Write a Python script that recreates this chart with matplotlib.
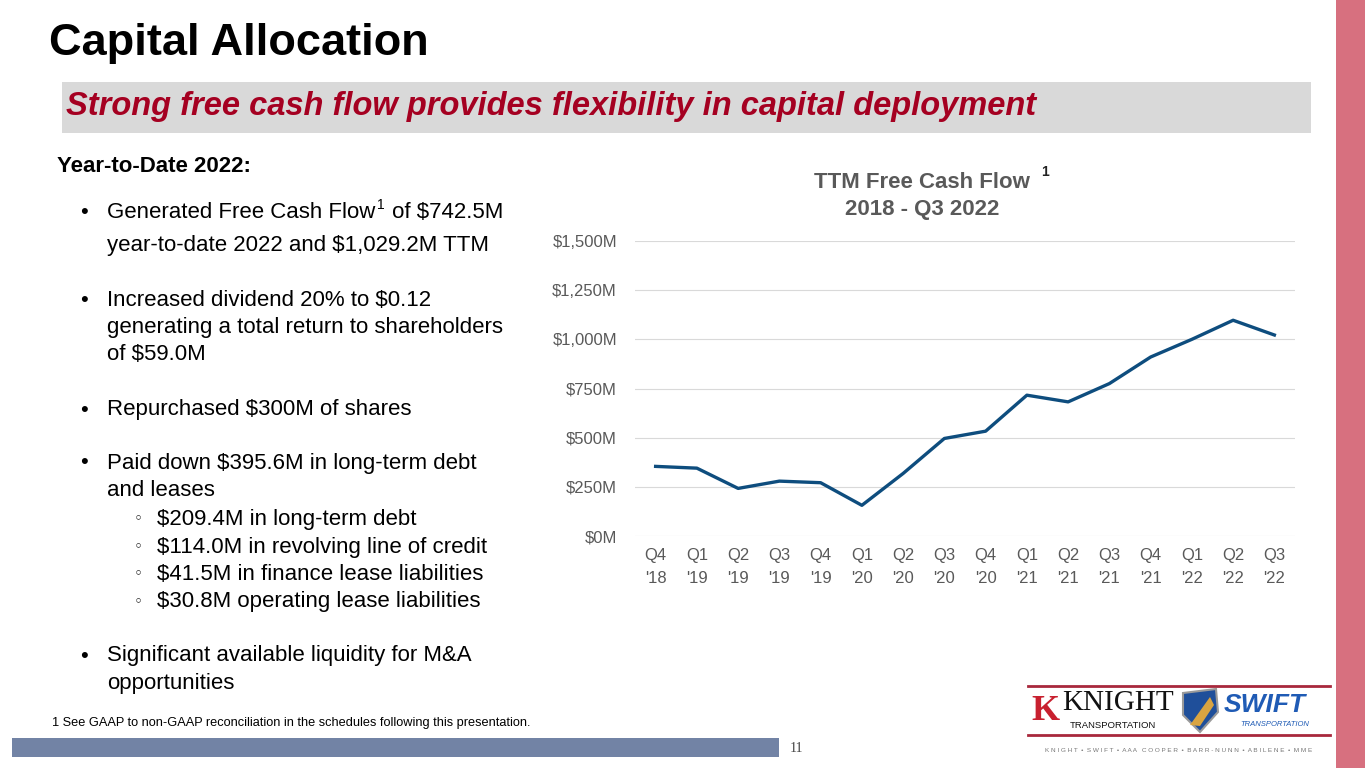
import matplotlib.pyplot as plt
from matplotlib.patches import Rectangle, Polygon

# TTM free cash flow, $M
quarters = ["Q4\n'18", "Q1\n'19", "Q2\n'19", "Q3\n'19", "Q4\n'19", "Q1\n'20", "Q2\n'20", "Q3\n'20",
            "Q4\n'20", "Q1\n'21", "Q2\n'21", "Q3\n'21", "Q4\n'21", "Q1\n'22", "Q2\n'22", "Q3\n'22"]
fcf = [354, 345, 242, 279, 271, 156, 318, 496, 533, 716, 682, 775, 910, 1000, 1097, 1022]
y_ticks = [0, 250, 500, 750, 1000, 1250, 1500]
y_tick_labels = ["$0M", "$250M", "$500M", "$750M", "$1,000M", "$1,250M", "$1,500M"]

# (y, bullet, text, level)
bullet_lines = [
    (245, None, "year-to-date 2022 and \\$1,029.2M TTM", 0),
    (300, "•", "Increased dividend 20% to \\$0.12", 0),
    (328, None, "generating a total return to shareholders", 0),
    (355, None, "of \\$59.0M", 0),
    (410, "•", "Repurchased \\$300M of shares", 0),
    (463, "•", "Paid down \\$395.6M in long-term debt", 0),
    (491, None, "and leases", 0),
    (519, "◦", "\\$209.4M in long-term debt", 1),
    (547, "◦", "\\$114.0M in revolving line of credit", 1),
    (574, "◦", "\\$41.5M in finance lease liabilities", 1),
    (602, "◦", "\\$30.8M operating lease liabilities", 1),
    (656, "•", "Significant available liquidity for M&A", 0),
    (684, None, "opportunities", 0),
]

plt.rcParams['font.family'] = ['Liberation Sans', 'DejaVu Sans']

W, H = 1365, 768
fig = plt.figure(figsize=(W / 100, H / 100), dpi=100)

# full-figure axes for the slide decorations, pixel coordinates
bg = fig.add_axes([0, 0, 1, 1])
bg.set_xlim(0, W)
bg.set_ylim(H, 0)
bg.axis('off')

bg.add_patch(Rectangle((1336, 0), 29, H, color='#D7707F', lw=0))
bg.add_patch(Rectangle((62, 82), 1249, 51, color='#D9D9D9', lw=0))
bg.add_patch(Rectangle((12, 738), 767, 19, color='#7283A5', lw=0))

bg.text(49, 44, "Capital Allocation", fontsize=32.5, fontweight='bold', color='black', va='center')
bg.text(66, 106, "Strong free cash flow provides flexibility in capital deployment",
        fontsize=23.5, fontweight='bold', style='italic', color='#A50021', va='center')

bg.text(57, 166, "Year-to-Date 2022:", fontsize=16, fontweight='bold', color='black', va='center')

# first bullet has a superscript footnote mark
bg.text(80, 213, "•", fontsize=16, va='center')
bg.text(107, 213, "Generated Free Cash Flow", fontsize=16, va='center')
bg.text(377, 205, "1", fontsize=10, va='center')
bg.text(386, 213, " of \\$742.5M", fontsize=16, va='center')
for y, mark, txt, lvl in bullet_lines:
    if mark == "•":
        bg.text(80, y, mark, fontsize=16, va='center')
    elif mark == "◦":
        bg.text(134, y, mark, fontsize=11, va='center', family='DejaVu Sans')
    x = 107 if lvl == 0 else 157
    bg.text(x, y, txt, fontsize=16, color='black', va='center')

bg.text(52, 723, "1 See GAAP to non-GAAP reconciliation in the schedules following this presentation.",
        fontsize=9.2, color='black', va='center')
bg.text(796, 748, "11", fontsize=10, family='Liberation Serif', color='#444444', va='center', ha='center')

# chart title
bg.text(922, 182, "TTM Free Cash Flow", fontsize=16, fontweight='bold', color='#595959', ha='center', va='center')
bg.text(1045, 172, "1", fontsize=10, fontweight='bold', color='#222222', ha='center', va='center')
bg.text(922, 210, "2018 - Q3 2022", fontsize=16, fontweight='bold', color='#595959', ha='center', va='center')

# logo block, drawn roughly
bg.plot([1028, 1330], [686, 686], color='#A8283C', lw=2)
bg.plot([1028, 1330], [735, 735], color='#A8283C', lw=2)
bg.text(1031, 712, "K", fontsize=26, fontweight='bold', family='Liberation Serif', color='#C8202F', va='center')
bg.text(1062, 703, "KNIGHT", fontsize=21, family='Liberation Serif', color='#111111', va='center')
bg.text(1070, 725, "TRANSPORTATION", fontsize=6.8, color='#111111', va='center')
bg.add_patch(Polygon([[1183, 693], [1216, 689], [1218, 712], [1200, 732], [1183, 715]],
                     closed=True, fc='#1F4F9A', ec='#9A9A9A', lw=1.5))
bg.add_patch(Polygon([[1190, 725], [1210, 697], [1214, 705], [1200, 726]], closed=True, fc='#D9A441', lw=0))
bg.text(1224, 705, "SWIFT", fontsize=19, fontweight='bold', style='italic', color='#1F5BB5', va='center')
bg.text(1240, 725, "TRANSPORTATION", fontsize=5.5, style='italic', color='#1F5BB5', va='center')
bg.text(1179, 750, "K N I G H T  •  S W I F T  •  A A A   C O O P E R  •  B A R R - N U N N  •  A B I L E N E  •  M M E",
        fontsize=4.6, color='#777777', ha='center', va='center')

# line chart
ax = fig.add_axes([635 / W, 1 - 536 / H, (1295 - 635) / W, (536 - 241) / H])
x = list(range(len(quarters)))
ax.plot(x, fcf, color='#0E4D7E', lw=2.4, solid_joinstyle='round', zorder=3)
ax.set_xlim(-0.5, len(quarters) - 0.5)
ax.set_ylim(0, 1500)
ax.set_yticks(y_ticks)
ax.set_yticklabels(y_tick_labels)
ax.set_xticks(x)
ax.set_xticklabels(quarters, linespacing=1.7)
ax.grid(axis='y', color='#D9D9D9', lw=0.8)
ax.set_axisbelow(True)
for s in ax.spines.values():
    s.set_visible(False)
ax.tick_params(length=0, labelsize=12, labelcolor='#595959')
ax.tick_params(axis='y', pad=13)
ax.tick_params(axis='x', pad=8.5)
ax.patch.set_alpha(0)

fig.savefig("out.png", dpi=100)
